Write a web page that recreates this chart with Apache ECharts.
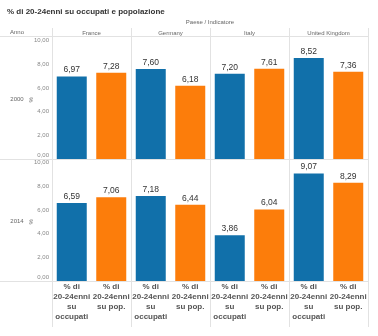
<!DOCTYPE html>
<html><head><meta charset="utf-8">
<script src="https://cdn.jsdelivr.net/npm/echarts@6/dist/echarts.min.js"></script>
<style>html,body{margin:0;padding:0;background:#fff}#c{width:378px;height:336px}</style>
</head><body><div id="c"></div>
<script>
const titleText = '% di 20-24enni su occupati e popolazione';
const headerText = 'Paese / Indicatore';
const rowHeader = 'Anno';
const countries = ['France', 'Germany', 'Italy', 'United Kingdom'];
const years = ['2000', '2014'];
const indicators = ['% di 20-24enni su occupati', '% di 20-24enni su pop.'];
const occupati2000 = [6.97, 7.60, 7.20, 8.52];
const pop2000 = [7.28, 6.18, 7.61, 7.36];
const occupati2014 = [6.59, 7.18, 3.86, 9.07];
const pop2014 = [7.06, 6.44, 6.04, 8.29];
const yMin = 0, yMax = 10, yStep = 2;
const colors = ['#1170aa', '#fc7d0b'];

const FONT = '"Liberation Sans", Arial, sans-serif';
const rows = [[occupati2000, pop2000], [occupati2014, pop2014]];
const colLeft = 52, colW = 79;
const rowTop = [40.5, 162.5], rowH = 118.5;
const fmt = v => v.toFixed(2).replace('.', ',');
const wrap = s => s.replace('% di ', '% di\n').replace('enni ', 'enni\n').replace('su occupati', 'su\noccupati');

const grids = [], xAxes = [], yAxes = [], series = [];
rows.forEach((vals, r) => {
  countries.forEach((c, ci) => {
    const idx = grids.length;
    grids.push({left: colLeft + ci * colW, top: rowTop[r], width: colW, height: rowH, containLabel: false});
    xAxes.push({
      type: 'category', gridIndex: idx, data: indicators,
      axisLine: {show: false}, axisTick: {show: false},
      axisLabel: {show: r === 1, interval: 0, margin: 1, formatter: wrap, fontFamily: FONT,
        fontSize: 8, fontWeight: 'bold', color: '#555', lineHeight: 10, verticalAlign: 'top'}
    });
    yAxes.push({
      type: 'value', gridIndex: idx, min: yMin, max: yMax, interval: yStep,
      splitLine: {show: false}, axisLine: {show: false}, axisTick: {show: false},
      axisLabel: {show: ci === 0, margin: 3, fontFamily: FONT, fontSize: 6, color: '#888',
        formatter: v => v === 0 ? '{z|' + fmt(v) + '}' : fmt(v),
        rich: {z: {fontFamily: FONT, fontSize: 6, color: '#888', padding: [0, 0, 8, 0]}}}
    });
    series.push({
      type: 'bar', xAxisIndex: idx, yAxisIndex: idx, barWidth: 30,
      data: [
        {value: vals[0][ci], itemStyle: {color: colors[0]}},
        {value: vals[1][ci], itemStyle: {color: colors[1]}}
      ],
      label: {show: true, position: 'top', distance: 2, fontFamily: FONT, fontSize: 8.5, color: '#333',
        formatter: p => fmt(p.value)},
      animation: false
    });
  });
});

const lineColor = '#e2e2e2';
const gLines = [];
const hline = (x1, x2, y) => gLines.push({type: 'line', shape: {x1, y1: y, x2, y2: y}, style: {stroke: lineColor, lineWidth: 1}, silent: true});
const vline = (x, y1, y2) => gLines.push({type: 'line', shape: {x1: x, y1, x2: x, y2}, style: {stroke: lineColor, lineWidth: 1}, silent: true});
for (let i = 0; i <= countries.length; i++) vline(colLeft + i * colW + 0.5, 28, 327);
hline(0, colLeft + countries.length * colW, 36.5);
hline(0, colLeft + countries.length * colW, 159.5);
hline(0, colLeft + countries.length * colW, 281.5);

const txt = (text, x, y, opts) => ({type: 'text', x, y, silent: true,
  style: Object.assign({text, fontFamily: FONT, fontSize: 6, fill: '#555', textAlign: 'center', textVerticalAlign: 'middle'}, opts || {})});
const gTexts = [
  txt(titleText, 7, 12, {fontSize: 8, fontWeight: 'bold', fill: '#333', textAlign: 'left'}),
  txt(headerText, colLeft + countries.length * colW / 2, 22, {fill: '#666'}),
  txt(rowHeader, 10, 32, {textAlign: 'left', fill: '#666'})
];
countries.forEach((c, ci) => gTexts.push(txt(c, colLeft + ci * colW + colW / 2, 33, {fill: '#666'})));
years.forEach((y, r) => {
  const cy = rowTop[r] + rowH / 2;
  gTexts.push(txt(y, 17, cy, {fill: '#666'}));
  gTexts.push(Object.assign(txt('%', 0, 0, {fill: '#666'}), {x: 31, y: cy, rotation: Math.PI / 2}));
});

const chart = echarts.init(document.getElementById('c'), null, {renderer: 'canvas'});
chart.setOption({
  animation: false,
  grid: grids, xAxis: xAxes, yAxis: yAxes, series,
  graphic: gLines.concat(gTexts)
});
</script></body></html>
